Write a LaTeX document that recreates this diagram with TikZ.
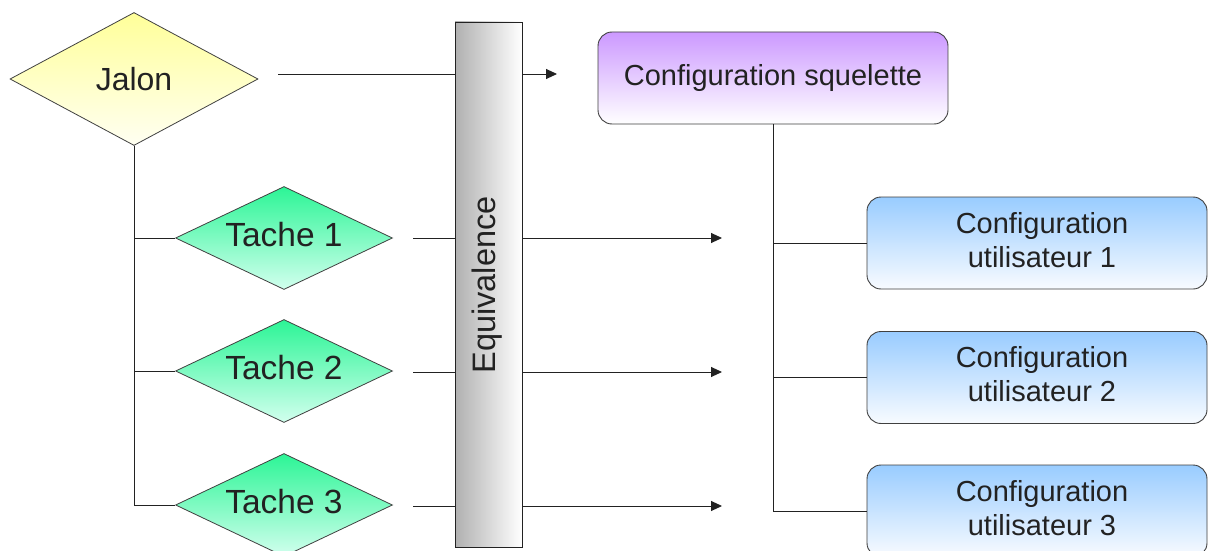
\documentclass[tikz,border=0pt]{standalone}
\usepackage{fontspec}
\setmainfont{Liberation Sans}
\usetikzlibrary{shapes.geometric,arrows.meta}
\definecolor{jalTop}{HTML}{FFFF99}
\definecolor{jalBot}{HTML}{FFFFF2}
\definecolor{tacTop}{HTML}{2CF596}
\definecolor{tacBot}{HTML}{D2FFEE}
\definecolor{sqTop}{HTML}{CC99FF}
\definecolor{sqBot}{HTML}{FFFFFF}
\definecolor{usTop}{HTML}{99CCFF}
\definecolor{usBot}{HTML}{F8FBFF}
\definecolor{barL}{HTML}{B0B0B0}
\definecolor{ink}{HTML}{222222}
\definecolor{rim}{HTML}{404040}
\begin{document}
\begin{tikzpicture}[x=1pt,y=-1pt,
  edge/.style={draw=ink, line width=0.9pt},
  arr/.style={edge, -{Triangle[length=11pt,width=10pt]}},
  lbl/.style={font=\fontsize{29}{34}\selectfont, text=ink},
  jalonbox/.style={diamond, aspect=1.9, draw=rim, line width=0.8pt, top color=jalTop, bottom color=jalBot,
    minimum width=248pt, minimum height=133pt, inner sep=0pt, lbl, font=\fontsize{32}{36}\selectfont},
  tachebox/.style={diamond, aspect=2, draw=rim, line width=0.8pt, top color=tacTop, bottom color=tacBot,
    minimum width=217pt, minimum height=103pt, inner sep=0pt, lbl, font=\fontsize{33.5}{38}\selectfont,
    text height=24pt, text depth=8pt},
  barbox/.style={rectangle, draw=ink, line width=0.9pt, left color=barL, right color=white,
    minimum width=67pt, minimum height=525pt, inner sep=0pt},
  sqbox/.style={rectangle, rounded corners=14pt, draw=rim, line width=0.9pt, top color=sqTop, bottom color=sqBot,
    minimum width=350pt, minimum height=92pt, inner sep=0pt, lbl},
  userbox/.style={rectangle, rounded corners=14pt, draw=rim, line width=0.9pt, top color=usTop, bottom color=usBot,
    minimum width=340pt, minimum height=92pt, inner sep=0pt},
  usertext/.style={lbl, align=center, inner sep=0pt},
]
\clip (0,0) rectangle (1208,551);
\fill[white] (0,0) rectangle (1208,551);

% nodes
\node[jalonbox] (J) at (134,79) {Jalon};
\node[tachebox] (T1) at (284,238) {Tache 1};
\node[tachebox] (T2) at (284,371) {Tache 2};
\node[tachebox] (T3) at (284,505) {Tache 3};
\node[barbox] (E) at (488.5,284.5) {};
\node[lbl, font=\fontsize{32.5}{36}\selectfont, rotate=90] (Et) at (487.5,285) {Equivalence};
\node[sqbox] (S) at (773,78) {Configuration squelette};
\node[userbox] (U1) at (1037,243) {};
\node[userbox] (U2) at (1037,377.5) {};
\node[userbox] (U3) at (1037,511) {};
\node[usertext] (U1t) at (1042,240) {Configuration\\utilisateur 1};
\node[usertext] (U2t) at (1042,374.5) {Configuration\\utilisateur 2};
\node[usertext] (U3t) at (1042,508) {Configuration\\utilisateur 3};

% free ends
\coordinate (j0) at (278,74);
\coordinate (j1) at (557,74);
\coordinate (a0) at (413,238);
\coordinate (a1) at (722,238);
\coordinate (b0) at (413,372);
\coordinate (b1) at (722,372);
\coordinate (c0) at (413,506);
\coordinate (c1) at (722,506);

% connectors through the bar
\draw[edge] (j0) -- (E.west |- j0);
\draw[arr] (E.east |- j0) -- (j1);
\draw[edge] (a0) -- (E.west |- a0);
\draw[arr] (E.east |- a0) -- (a1);
\draw[edge] (b0) -- (E.west |- b0);
\draw[arr] (E.east |- b0) -- (b1);
\draw[edge] (c0) -- (E.west |- c0);
\draw[arr] (E.east |- c0) -- (c1);

% Jalon tree
\draw[edge] (J.south) |- (T3.west);
\draw[edge] (J.south |- T1.west) -- (T1.west);
\draw[edge] (J.south |- T2.west) -- (T2.west);

% squelette tree
\draw[edge] (S.south) |- (U3.west);
\draw[edge] (S.south |- U1.west) -- (U1.west);
\draw[edge] (S.south |- U2.west) -- (U2.west);
\end{tikzpicture}
\end{document}
